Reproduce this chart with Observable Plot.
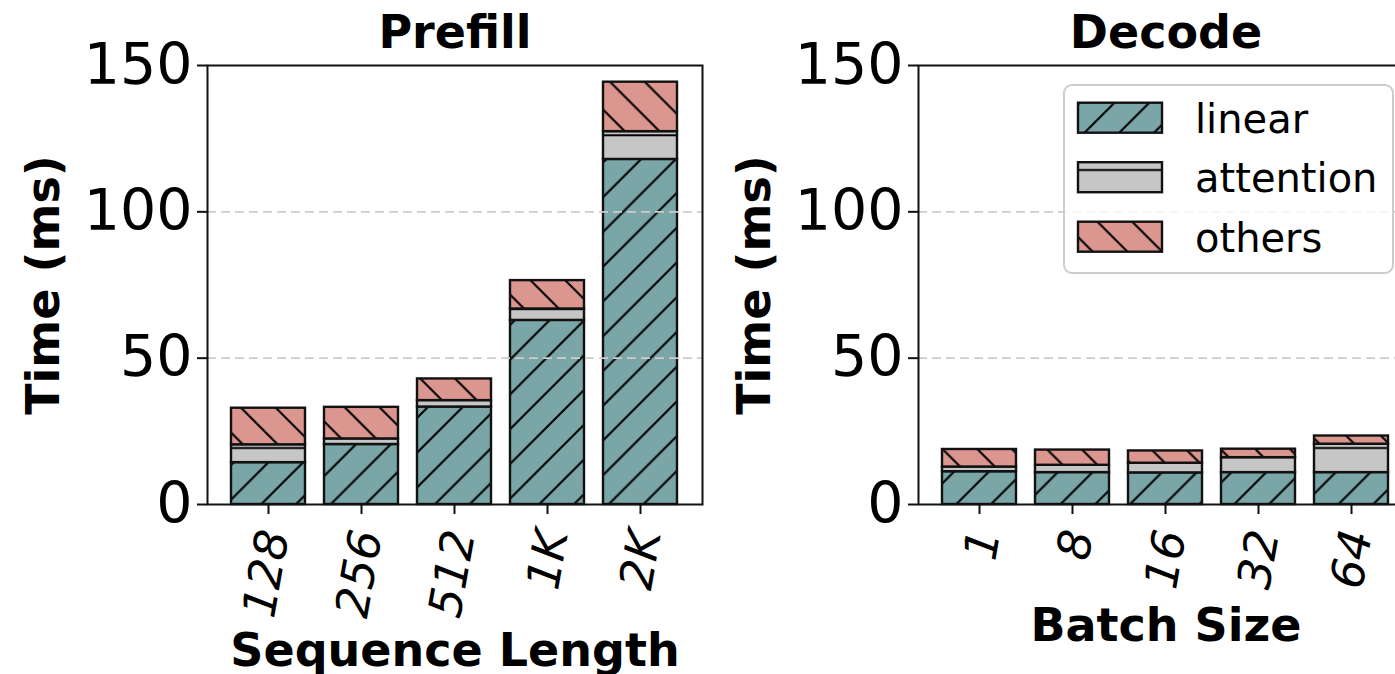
<!DOCTYPE html>
<html><head><meta charset="utf-8">
<script src="https://cdn.jsdelivr.net/npm/d3@7"></script>
<script src="https://cdn.jsdelivr.net/npm/@observablehq/plot@0.6"></script>
<style>
html,body{margin:0;padding:0;overflow:hidden;background:white;width:1395px;height:674px;}
#wrap{position:relative;width:1395px;height:674px;overflow:hidden;}
#wrap svg{position:absolute;left:0;top:0;}
</style></head><body><div id="wrap"></div>
<script>
// ---- data ----
const components = ["linear", "attention", "others"];
const prefillSeq = ["128", "256", "512", "1K", "2K"];
const prefillLinear = [14.3, 20.5, 33.3, 62.9, 117.9];
const prefillAttention = [6.1, 1.9, 2.2, 3.9, 9.5];
const prefillOthers = [12.5, 10.8, 7.4, 9.7, 16.9];
const decodeBatch = ["1", "8", "16", "32", "64"];
const decodeLinear = [11.2, 10.9, 10.8, 10.9, 10.9];
const decodeAttention = [1.6, 2.5, 3.3, 5.1, 9.7];
const decodeOthers = [6.0, 5.2, 4.2, 2.9, 2.8];
const yTicks = [0, 50, 100, 150];
const gridTicks = [50, 100];
const colors = {linear: "#7aa6a8", attention: "#c6c6c6", others: "#da968f"};

const FONT = "DejaVu Sans";
const S = 34.75;
const hatchPaths = {
  linear: `M${-S/2},${S/2} L${S/2},${-S/2} M0,${S} L${S},0 M${S/2},${S*1.5} L${S*1.5},${S/2}`,
  others: `M0,0 L${S},${S} M${-S/2},${S/2} L${S/2},${S*1.5} M${S/2},${-S/2} L${S*1.5},${S/2}`,
  attention: `M-2,31 L${S+2},31`
};
const hatchShift = {linear: [1, 0], others: [7, 0], attention: [0, 0]};

function addDefs(svg, prefix) {
  const defs = d3.select(svg).insert("defs", ":first-child");
  for (const c of components) {
    const p = defs.append("pattern").attr("id", `${prefix}-${c}`)
      .attr("patternUnits", "userSpaceOnUse").attr("width", S).attr("height", S)
      .attr("patternTransform", `translate(${hatchShift[c][0]},${hatchShift[c][1]})`);
    p.append("rect").attr("x", -1).attr("y", -1).attr("width", S + 2).attr("height", S + 2).attr("fill", colors[c]);
    p.append("path").attr("d", hatchPaths[c]).attr("stroke", "#000").attr("stroke-width", 2.1).attr("fill", "none");
  }
}

function panel({prefix, cats, series, title, xlabel, width, marginLeft, marginRight, xlabelDy}) {
  const data = cats.flatMap((c, i) => components.map((k, j) => ({cat: c, comp: k, value: series[j][i]})));
  const svg = Plot.plot({
    width, height: 674,
    marginLeft, marginRight, marginTop: 65, marginBottom: 170,
    style: {background: "transparent", maxWidth: "none", overflow: "visible", fontFamily: FONT, color: "#000"},
    x: {domain: cats, paddingInner: 0.2, paddingOuter: 0.24, axis: null},
    y: {domain: [0, 150], axis: null},
    color: {domain: components, range: components.map(c => `url(#${prefix}-${c})`)},
    marks: [
      Plot.barY(data, {x: "cat", y: "value", fill: "comp", stroke: "#111", strokeWidth: 2.4, order: components}),
      Plot.ruleY(gridTicks, {stroke: "#cccccc", strokeWidth: 1.6, strokeDasharray: "9,5"}),
      Plot.frame({stroke: "#111", strokeWidth: 2}),
      Plot.axisY({ticks: yTicks, tickSize: 10, tickPadding: 5, fontSize: 57, strokeWidth: 2, stroke: "#111", label: null, tickFormat: d => String(d)}),
      Plot.axisX({tickSize: 10, strokeWidth: 2, stroke: "#111", tickFormat: () => "", label: null}),
      Plot.text(cats, {x: d => d, frameAnchor: "bottom", rotate: -80, textAnchor: "end", lineAnchor: "middle", dy: 26, dx: 6, fontSize: 46, fontStyle: "italic", fill: "#000"}),
      Plot.text(["Time (ms)"], {frameAnchor: "left", rotate: -90, textAnchor: "middle", lineAnchor: "bottom", dx: -149, fontSize: 46, fontWeight: "bold", fill: "#000"}),
      Plot.text([title], {frameAnchor: "top", textAnchor: "middle", lineAnchor: "bottom", dy: -18, fontSize: 46, fontWeight: "bold", fill: "#000"}),
      Plot.text([xlabel], {frameAnchor: "bottom", textAnchor: "middle", lineAnchor: "bottom", dy: xlabelDy, fontSize: 46, fontWeight: "bold", fill: "#000"})
    ]
  });
  addDefs(svg, prefix);
  return svg;
}

const wrap = document.getElementById("wrap");
const left = panel({prefix: "L", cats: prefillSeq, series: [prefillLinear, prefillAttention, prefillOthers],
  title: "Prefill", xlabel: "Sequence Length", width: 1395, marginLeft: 207, marginRight: 693, xlabelDy: 161});
const right = panel({prefix: "R", cats: decodeBatch, series: [decodeLinear, decodeAttention, decodeOthers],
  title: "Decode", xlabel: "Batch Size", width: 1414, marginLeft: 918, marginRight: 1, xlabelDy: 136});
wrap.appendChild(left);
wrap.appendChild(right);

// legend (inside the Decode axes, upper right)
const lg = d3.select(right).append("g").attr("font-family", FONT).attr("text-anchor", "start");
lg.append("rect").attr("x", 1064).attr("y", 85).attr("width", 329).attr("height", 188).attr("rx", 8)
  .attr("fill", "white").attr("fill-opacity", 0.8).attr("stroke", "#cccccc").attr("stroke-width", 2);
components.forEach((c, i) => {
  const y = 102.7 + i * 59.5;
  lg.append("rect").attr("x", 1078).attr("y", y).attr("width", 84).attr("height", 30)
    .attr("fill", `url(#R-${c})`).attr("stroke", "#111").attr("stroke-width", 2.4);
  lg.append("text").attr("x", 1195).attr("y", y + 30).attr("font-size", 40).attr("fill", "#000")
    .attr("text-anchor", "start").text(c);
});
</script></body></html>
